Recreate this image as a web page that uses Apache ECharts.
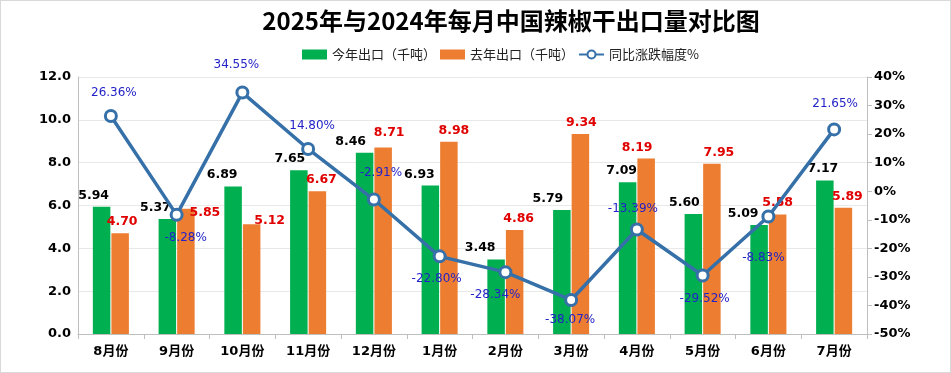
<!DOCTYPE html>
<html><head><meta charset="utf-8">
<script src="https://cdn.jsdelivr.net/npm/echarts@6/dist/echarts.min.js"></script>
<style>html,body{margin:0;padding:0;background:#fff}#c{width:951px;height:373px;box-sizing:border-box;border:1px solid #d9d9d9}</style>
</head><body><div id="c"></div>
<script>
const categories = ['8月份','9月份','10月份','11月份','12月份','1月份','2月份','3月份','4月份','5月份','6月份','7月份'];
const thisYear = [5.94,5.37,6.89,7.65,8.46,6.93,3.48,5.79,7.09,5.60,5.09,7.17];
const lastYear = [4.70,5.85,5.12,6.67,8.71,8.98,4.86,9.34,8.19,7.95,5.58,5.89];
const yoy = [26.36,-8.28,34.55,14.80,-2.91,-22.80,-28.34,-38.07,-13.39,-29.52,-8.83,21.65];

// label placement (style only)
const yoyLabelPos = ['top','bottom','top','top','top','bottom','bottom','bottom','top','bottom','bottom','top'];
const yoyLabelOff = [[3,0],[9,0],[-6,-5],[4,0],[7,-4],[-3,0],[-10,0],[-1,-3],[-4,2],[2,0],[-5,18],[1,-3]];
const thisLabelOff = [[-8,0],[-12,0],[-11,0],[-9,0],[-14,0],[-11,0],[-16,0],[-14,0],[-6,0],[-9,0],[-16,0],[-2,0]];
const lastLabelOff = [[2,0],[19,15],[18,8],[4,0],[6,-3],[5,0],[4,0],[1,0],[-9,0],[7,0],[0,0],[4,0]];

const font = '"Noto Sans CJK SC", "Noto Sans", sans-serif';
const numFont = '"DejaVu Sans", "Noto Sans CJK SC", sans-serif';
const chart = echarts.init(document.getElementById('c'));
chart.setOption({
  animation:false,
  textStyle:{fontFamily:font},
  title:{text:'2025年与2024年每月中国辣椒干出口量对比图',left:505,textAlign:'center',top:3,
    textStyle:{fontSize:24,fontWeight:'bold',color:'#000',fontFamily:font}},
  legend:{top:42,left:296,itemWidth:25,itemHeight:10,itemGap:4,
    textStyle:{fontSize:13,color:'#222',fontFamily:font},
    data:[{name:'今年出口（千吨）',icon:'rect'},{name:'去年出口（千吨）',icon:'rect'},{name:'同比涨跌幅度%'}]},
  grid:{left:77,right:83,top:76,bottom:38,containLabel:false},
  xAxis:{type:'category',data:categories,
    axisLine:{lineStyle:{color:'#bfbfbf'}},
    axisTick:{show:true,lineStyle:{color:'#bfbfbf'},length:5},
    axisLabel:{fontSize:13,fontWeight:'bold',color:'#000',margin:11,fontFamily:numFont}},
  yAxis:[
    {type:'value',min:0,max:12,interval:2,
      axisLine:{show:true,lineStyle:{color:'#bfbfbf'}},axisTick:{show:false},
      axisLabel:{fontSize:13,fontWeight:'bold',color:'#000',formatter:v=>v.toFixed(1),margin:7,fontFamily:numFont},
      splitLine:{lineStyle:{color:'#e8e8e8'}}},
    {type:'value',min:-50,max:40,interval:10,
      axisLine:{show:true,lineStyle:{color:'#bfbfbf'}},axisTick:{show:true,lineStyle:{color:'#bfbfbf'},length:5},
      axisLabel:{fontSize:13,fontWeight:'bold',color:'#000',formatter:'{value}%',margin:7,fontFamily:numFont},
      splitLine:{show:false}}
  ],
  series:[
    {name:'今年出口（千吨）',type:'bar',barWidth:17.5,barGap:'6%',
      data:thisYear.map((v,i)=>({value:v,label:{offset:thisLabelOff[i]}})),
      itemStyle:{color:'#00b050'},
      label:{show:true,position:'top',formatter:p=>p.value.toFixed(2),fontSize:12.5,fontWeight:'bold',color:'#000',fontFamily:numFont}},
    {name:'去年出口（千吨）',type:'bar',barWidth:17.5,
      data:lastYear.map((v,i)=>({value:v,label:{offset:lastLabelOff[i]}})),
      itemStyle:{color:'#ed7d31'},
      label:{show:true,position:'top',formatter:p=>p.value.toFixed(2),fontSize:12.5,fontWeight:'bold',color:'#e00000',fontFamily:numFont}},
    {name:'同比涨跌幅度%',type:'line',yAxisIndex:1,
      data:yoy.map((v,i)=>({value:v,label:{position:yoyLabelPos[i],offset:yoyLabelOff[i]}})),
      lineStyle:{color:'#3670a8',width:3.5},
      itemStyle:{color:'#fff',borderColor:'#3670a8',borderWidth:3},
      symbol:'circle',symbolSize:11,z:5,
      label:{show:true,formatter:p=>p.value.toFixed(2)+'%',fontSize:12,color:'#2323c8',distance:10,fontFamily:numFont}}
  ]
});
</script></body></html>
